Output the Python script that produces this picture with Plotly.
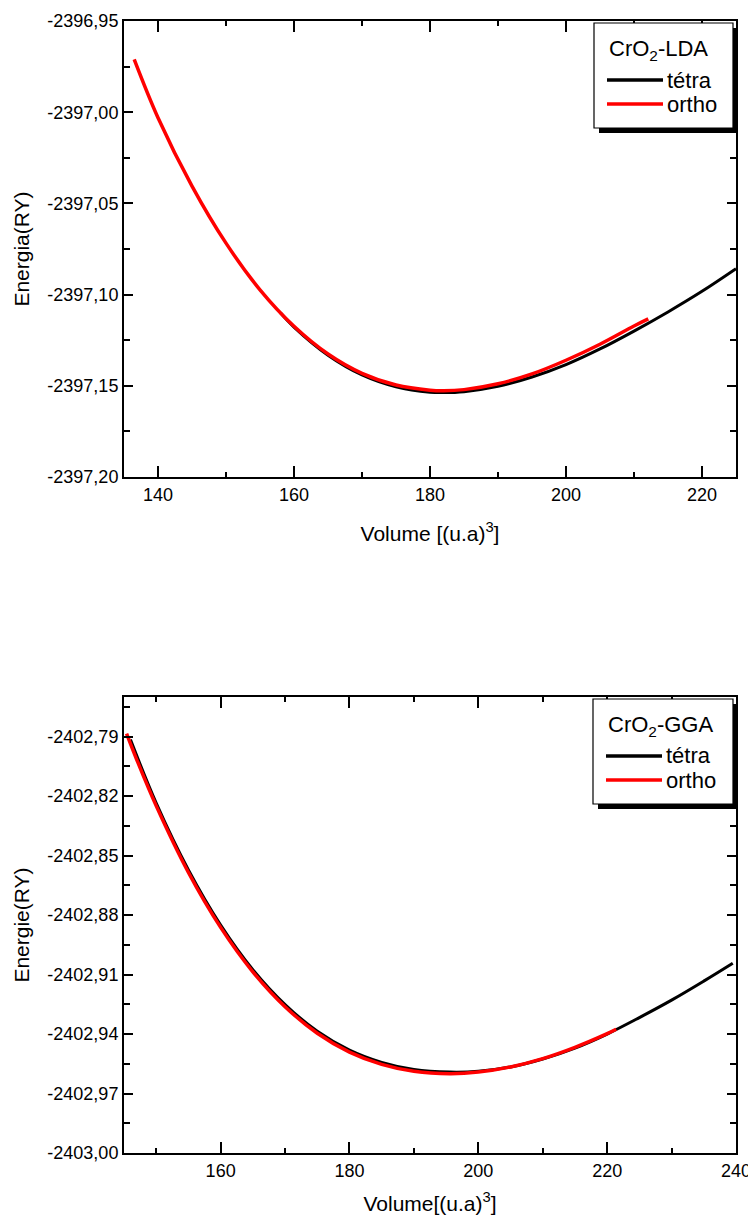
import plotly.graph_objects as go

# ---------------- data: CrO2 - LDA ----------------
lda_tetra_volume = [158.0, 160.0, 165.0, 170.0, 175.0, 180.0, 182.0, 185.0, 190.0,
                    195.0, 200.0, 205.0, 210.0, 215.0, 220.0, 225.0]
lda_tetra_energy = [-2397.1100, -2397.1178, -2397.1332, -2397.1440, -2397.1505,
                    -2397.1535, -2397.1537, -2397.1532, -2397.1503, -2397.1452,
                    -2397.1384, -2397.1298, -2397.1200, -2397.1095, -2397.0982,
                    -2397.0858]
lda_ortho_volume = [136.5, 140.0, 145.0, 150.0, 155.0, 160.0, 165.0, 170.0, 175.0,
                    180.0, 182.0, 185.0, 190.0, 195.0, 200.0, 205.0, 210.0, 212.1]
lda_ortho_energy = [-2396.9710, -2397.0030, -2397.0405, -2397.0718, -2397.0974,
                    -2397.1174, -2397.1326, -2397.1432, -2397.1496, -2397.1524,
                    -2397.1527, -2397.1521, -2397.1489, -2397.1435, -2397.1360,
                    -2397.1272, -2397.1172, -2397.1133]

# ---------------- data: CrO2 - GGA ----------------
gga_tetra_volume = [146.0, 150.0, 155.0, 160.0, 165.0, 170.0, 175.0, 180.0, 185.0,
                    190.0, 195.6, 200.0, 205.0, 210.0, 215.0, 220.0, 225.0, 230.0,
                    235.0, 239.5]
gga_tetra_energy = [-2402.7915, -2402.8235, -2402.8572, -2402.8850, -2402.9075,
                    -2402.9251, -2402.9386, -2402.9481, -2402.9543, -2402.9579,
                    -2402.9592, -2402.9588, -2402.9566, -2402.9526, -2402.9471,
                    -2402.9400, -2402.9317, -2402.9229, -2402.9133, -2402.9043]
gga_ortho_volume = [145.4, 147.0, 150.0, 155.0, 160.0, 165.0, 170.0, 175.0, 180.0,
                    185.0, 190.0, 195.6, 200.0, 205.0, 210.0, 215.0, 220.0, 221.4]
gga_ortho_energy = [-2402.7885, -2402.8018, -2402.8249, -2402.8585, -2402.8862,
                    -2402.9086, -2402.9262, -2402.9396, -2402.9491, -2402.9553,
                    -2402.9588, -2402.9600, -2402.9592, -2402.9566, -2402.9524,
                    -2402.9467, -2402.9398, -2402.9376]

# ---------------- ticks ----------------
lda_x_ticks = [140, 160, 180, 200, 220]
lda_x_labels = ["140", "160", "180", "200", "220"]
lda_y_ticks = [-2397.20, -2397.15, -2397.10, -2397.05, -2397.00, -2396.95]
lda_y_labels = ["-2397,20", "-2397,15", "-2397,10", "-2397,05", "-2397,00", "-2396,95"]
gga_x_ticks = [160, 180, 200, 220, 240]
gga_x_labels = ["160", "180", "200", "220", "240"]
gga_y_ticks = [-2403.00, -2402.97, -2402.94, -2402.91, -2402.88, -2402.85,
               -2402.82, -2402.79]
gga_y_labels = ["-2403,00", "-2402,97", "-2402,94", "-2402,91", "-2402,88",
                "-2402,85", "-2402,82", "-2402,79"]

series_names = ["tétra", "ortho"]
series_colors = ["#000000", "#FF0000"]

# page is 756x1223; the browser body has an 8 px margin
OFF = 8
W, H = 756 - OFF, 1223 - 2 * OFF
FONT = "Liberation Sans, Arial, sans-serif"


def px(x):
    return (x - OFF) / W


def py(y):
    return 1 - (y - OFF) / H


fig = go.Figure()

# LDA traces
fig.add_trace(go.Scatter(x=lda_tetra_volume, y=lda_tetra_energy, name=series_names[0],
                         mode="lines", line=dict(color=series_colors[0], width=3, shape="spline"),
                         xaxis="x", yaxis="y", showlegend=False))
fig.add_trace(go.Scatter(x=lda_ortho_volume, y=lda_ortho_energy, name=series_names[1],
                         mode="lines", line=dict(color=series_colors[1], width=3.5, shape="spline"),
                         xaxis="x", yaxis="y", showlegend=False))
# GGA traces
fig.add_trace(go.Scatter(x=gga_tetra_volume, y=gga_tetra_energy, name=series_names[0],
                         mode="lines", line=dict(color=series_colors[0], width=3, shape="spline"),
                         xaxis="x2", yaxis="y2", showlegend=False))
fig.add_trace(go.Scatter(x=gga_ortho_volume, y=gga_ortho_energy, name=series_names[1],
                         mode="lines", line=dict(color=series_colors[1], width=3.5, shape="spline"),
                         xaxis="x2", yaxis="y2", showlegend=False))

axis_common = dict(showline=True, linecolor="black", linewidth=2, mirror="ticks",
                   ticks="inside", tickcolor="black", tickwidth=1.5,
                   showgrid=False, zeroline=False, automargin=False,
                   ticklabeloverflow="allow",
                   tickfont=dict(family=FONT, size=18, color="black"),
                   title_font=dict(family=FONT, size=21, color="black"),
                   tickmode="array")

xdom = [px(124), px(736)]

fig.update_layout(
    width=W, height=H,
    margin=dict(l=0, r=0, t=0, b=0),
    paper_bgcolor="white", plot_bgcolor="white",
    font=dict(family=FONT, size=18, color="black"),
    xaxis=dict(axis_common, domain=xdom, anchor="y", range=[135, 225],
               tickvals=lda_x_ticks, ticktext=lda_x_labels, ticklen=11,
               minor=dict(ticks="inside", ticklen=5, tickcolor="black", tickwidth=1.5,
                          tickmode="linear", tick0=0, dtick=10),
               title=dict(text="Volume [(u.a)<sup>3</sup>]", standoff=23)),
    yaxis=dict(axis_common, domain=[py(477), py(21)], anchor="x",
               range=[-2397.20, -2396.95],
               tickvals=lda_y_ticks, ticktext=lda_y_labels, ticklen=9,
               minor=dict(ticks="inside", ticklen=6, tickcolor="black", tickwidth=1.5,
                          tickmode="linear", tick0=-2397.20, dtick=0.025),
               title=dict(text="Energia(RY)", standoff=12)),
    xaxis2=dict(axis_common, domain=xdom, anchor="y2", range=[145, 240],
                tickvals=gga_x_ticks, ticktext=gga_x_labels, ticklen=11,
                minor=dict(ticks="inside", ticklen=5, tickcolor="black", tickwidth=1.5,
                           tickmode="linear", tick0=0, dtick=10),
                title=dict(text="Volume[(u.a)<sup>3</sup>]", standoff=24)),
    yaxis2=dict(axis_common, domain=[py(1153), py(697)], anchor="x2",
                range=[-2403.00, -2402.77],
                tickvals=gga_y_ticks, ticktext=gga_y_labels, ticklen=9,
                minor=dict(ticks="inside", ticklen=6, tickcolor="black", tickwidth=1.5,
                           tickmode="linear", tick0=-2403.00, dtick=0.015),
                title=dict(text="Energie(RY)", standoff=12)),
)

# ---------------- legend boxes (with drop shadow) ----------------
legend_titles = ["CrO<sub>2</sub>-LDA", "CrO<sub>2</sub>-GGA"]
legend_boxes = [(594, 23, 733, 128), (593, 699, 733, 804)]
shapes = []
annotations = []
for title, (x0, y0, x1, y1) in zip(legend_titles, legend_boxes):
    shapes.append(dict(type="rect", xref="paper", yref="paper",
                       x0=px(x0 + 5), x1=px(x1 + 5), y0=py(y1 + 5), y1=py(y0 + 5),
                       fillcolor="black", line=dict(width=0), layer="above"))
    shapes.append(dict(type="rect", xref="paper", yref="paper",
                       x0=px(x0), x1=px(x1), y0=py(y1), y1=py(y0),
                       fillcolor="white", line=dict(color="black", width=1.2), layer="above"))
    annotations.append(dict(xref="paper", yref="paper", x=px(x0 + 13), y=py(y0 + 27),
                            xanchor="left", yanchor="middle", showarrow=False,
                            text=title, font=dict(family=FONT, size=22, color="black")))
    for k, (nm, col) in enumerate(zip(series_names, series_colors)):
        yy = y0 + 57 + 24 * k
        shapes.append(dict(type="line", xref="paper", yref="paper",
                           x0=px(x0 + 13), x1=px(x0 + 69), y0=py(yy), y1=py(yy),
                           line=dict(color=col, width=3.5), layer="above"))
        annotations.append(dict(xref="paper", yref="paper", x=px(x0 + 71), y=py(yy),
                                xanchor="left", yanchor="middle", showarrow=False,
                                text=nm, font=dict(family=FONT, size=22, color="black")))

fig.update_layout(shapes=shapes, annotations=annotations)

fig.write_html("out.html")
